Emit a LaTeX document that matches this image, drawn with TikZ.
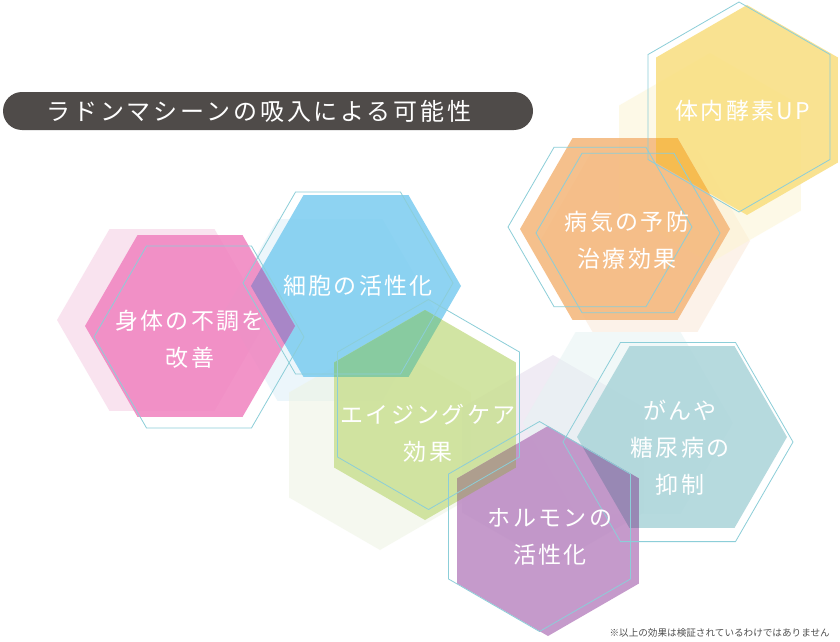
\documentclass[tikz,border=0pt]{standalone}
\usepackage{fontspec}
\newfontfamily\jp{Noto Sans CJK JP}
% main colours (used with fill opacity 0.85)
\definecolor{cpink}{RGB}{240,130,191}
\definecolor{cblue}{RGB}{123,204,240}
\definecolor{cgreen}{RGB}{202,224,147}
\definecolor{cpurple}{RGB}{187,137,194}
\definecolor{cteal}{RGB}{170,212,217}
\definecolor{corange}{RGB}{244,182,121}
\definecolor{cyellow}{RGB}{249,222,126}
% faint colours (used with fill opacity 0.5)
\definecolor{fpink}{RGB}{245,201,225}
\definecolor{fblue}{RGB}{219,239,249}
\definecolor{fgreen}{RGB}{237,243,225}
\definecolor{fpurple}{RGB}{227,217,235}
\definecolor{fteal}{RGB}{229,243,243}
\definecolor{forange}{RGB}{251,231,213}
\definecolor{fyellow}{RGB}{253,245,209}
% overlap colours
\definecolor{opb}{RGB}{168,134,199}
\definecolor{obg}{RGB}{136,203,160}
\definecolor{ogp}{RGB}{174,158,142}
\definecolor{opt}{RGB}{152,136,180}
\definecolor{ooy}{RGB}{246,188,80}
\definecolor{hexline}{RGB}{140,206,216}
\definecolor{barcol}{RGB}{79,75,73}
\definecolor{notecol}{RGB}{80,80,80}
\newcommand\hexF[3]{({#1+#3},{#2}) -- ({#1+0.5*#3},{#2+0.8660254*#3}) -- ({#1-0.5*#3},{#2+0.8660254*#3}) -- ({#1-#3},{#2}) -- ({#1-0.5*#3},{#2-0.8660254*#3}) -- ({#1+0.5*#3},{#2-0.8660254*#3}) -- cycle}
\newcommand\hexP[3]{({#1},{#2+#3}) -- ({#1+0.8660254*#3},{#2+0.5*#3}) -- ({#1+0.8660254*#3},{#2-0.5*#3}) -- ({#1},{#2-#3}) -- ({#1-0.8660254*#3},{#2-0.5*#3}) -- ({#1-0.8660254*#3},{#2+0.5*#3}) -- cycle}
\tikzset{
  faint/.style={fill=#1, fill opacity=0.5},
  mainhex/.style={fill=#1, fill opacity=0.85},
  outl/.style={draw=hexline, line width=0.8pt},
  hextext/.style={text=white, align=center, inner sep=0pt,
    font=\jp\addfontfeature{LetterSpace=10}\fontsize{23}{37}\selectfont},
}
\begin{document}
\begin{tikzpicture}[x=1pt,y=-1pt]
\useasboundingbox (0,0) rectangle (840,642);
\fill[white] (0,0) rectangle (840,642);
% faint hexagons
\fill[faint=fpink]   \hexF{162}{320}{105};
\fill[faint=fblue]   \hexF{330}{310}{105};
\fill[faint=fgreen]  \hexP{380}{445}{105};
\fill[faint=fpurple] \hexP{553}{460}{105};
\fill[faint=fteal]   \hexF{628}{423}{105};
\fill[faint=forange] \hexF{645}{241}{105};
\fill[faint=fyellow] \hexP{710}{158}{105};
% main hexagons
\fill[mainhex=cblue]   \hexF{356}{286}{105};
\fill[mainhex=cpink]   \hexF{190}{326}{105};
\fill[mainhex=cgreen]  \hexP{425}{415}{105};
\fill[mainhex=cteal]   \hexF{682}{437}{105};
\fill[mainhex=cpurple] \hexP{548}{531}{105};
\fill[mainhex=cyellow] \hexP{747}{110}{105};
\fill[mainhex=corange] \hexF{625}{229}{105};
% overlaps
\begin{scope}\clip \hexF{190}{326}{105}; \fill[opb] \hexF{356}{286}{105};\end{scope}
\begin{scope}\clip \hexF{356}{286}{105}; \fill[obg] \hexP{425}{415}{105};\end{scope}
\begin{scope}\clip \hexP{425}{415}{105}; \fill[ogp] \hexP{548}{531}{105};\end{scope}
\begin{scope}\clip \hexP{548}{531}{105}; \fill[opt] \hexF{682}{437}{105};\end{scope}
\begin{scope}\clip \hexF{625}{229}{105}; \fill[ooy] \hexP{747}{110}{105};\end{scope}
% outlines
\draw[outl] \hexF{199}{337}{105};
\draw[outl] \hexF{348}{283}{105};
\draw[outl] \hexP{428.5}{404.5}{105};
\draw[outl] \hexP{539.5}{526.5}{105};
\draw[outl] \hexF{678}{442}{115};
\draw[outl] \hexF{600}{227}{92};
\draw[outl] \hexF{628}{233}{92};
\draw[outl] \hexP{739}{107}{105};
% title
\fill[barcol, rounded corners=19pt] (3,92) rectangle (533,130);
\node[text=white, inner sep=0pt, font=\jp\addfontfeature{LetterSpace=12}\fontsize{24}{28}\selectfont] (title) at (259,111) {ラドンマシーンの吸入による可能性};
% labels
\node[hextext] (tpink)   at (190,339) {身体の不調を\\改善};
\node[hextext] (tblue)   at (358,286) {細胞の活性化};
\node[hextext] (tgreen)  at (428,433) {エイジングケア\\効果};
\node[hextext] (tpurple) at (550,537) {ホルモンの\\活性化};
\node[hextext] (tteal)   at (680,448) {がんや\\糖尿病の\\抑制};
\node[hextext] (torange) at (627,240) {病気の予防\\治療効果};
\node[hextext] (tyellow) at (743,111) {体内酵素UP};
\node[text=notecol, anchor=east, inner sep=0pt, font=\jp\fontsize{9.6}{12}\selectfont] (note) at (830,633) {※以上の効果は検証されているわけではありません};
\end{tikzpicture}
\end{document}
